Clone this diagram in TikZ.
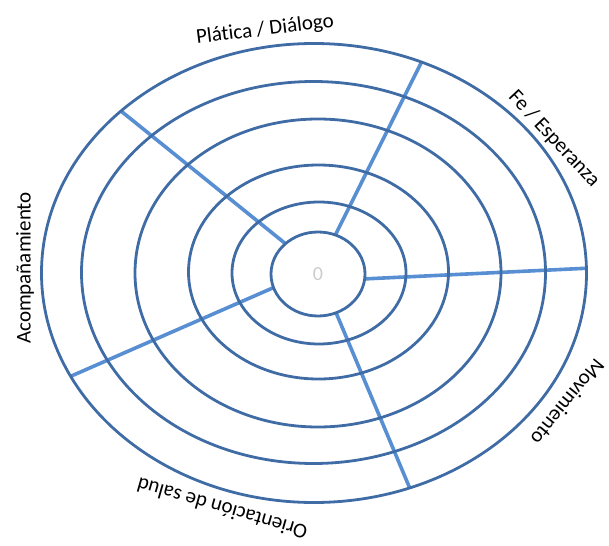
\documentclass[tikz,border=0pt]{standalone}
\usepackage{fontspec}
\setmainfont{Carlito}[Ligatures=NoCommon]
\usetikzlibrary{shapes.geometric}
\definecolor{ringblue}{RGB}{64,108,166}
\definecolor{spokeblue}{RGB}{88,142,210}
\pgfdeclarelayer{bg}
\pgfsetlayers{bg,main}
\begin{document}
\begin{tikzpicture}[x=1pt,y=-1pt,
  ring/.style={ellipse, draw=ringblue, line width=2.8pt, inner sep=0pt, outer sep=0pt},
  spoke/.style={draw=spokeblue, line width=3.6pt},
  lab/.style={font=\fontsize{21}{25}\selectfont, inner sep=0pt}]
\useasboundingbox (0,0) rectangle (609,545);
\node[ring, minimum width=94pt,  minimum height=84pt]  (r1) at (318,274) {};
\node[ring, minimum width=174pt, minimum height=142pt] (r2) at (319,273) {};
\node[ring, minimum width=260pt, minimum height=214pt] (r3) at (318.5,272) {};
\node[ring, minimum width=366pt, minimum height=308pt] (r4) at (318,273) {};
\node[ring, minimum width=464pt, minimum height=382pt] (r5) at (313.5,272.5) {};
\node[ring, minimum width=545pt, minimum height=459pt] (r6) at (314,273) {};
\node[text=black!20, font=\fontsize{20}{22}\selectfont, inner sep=0pt] (zero) at (r1) {0};
\begin{pgfonlayer}{bg}
\draw[spoke] (r1.-6) -- (r6.1);
\draw[spoke] (r1.66) -- (r6.63.7);
\draw[spoke] (r1.137.6) -- (r6.140);
\draw[spoke] (r1.197) -- (r6.203.6);
\draw[spoke] (r1.-65.7) -- (r6.-66.7);
\end{pgfonlayer}
\node[lab, rotate=7]    (pd) at (265,30) {Plática / Diálogo};
\node[lab, rotate=-47]  (fe) at (554,139) {Fe / Esperanza};
\node[lab, rotate=90]   (ac) at (25,268) {Acompañamiento};
\node[lab, rotate=-129] (mv) at (568,402) {Movimiento};
\node[lab, rotate=164]  (os) at (222,509) {Orientación de salud};
\end{tikzpicture}
\end{document}
